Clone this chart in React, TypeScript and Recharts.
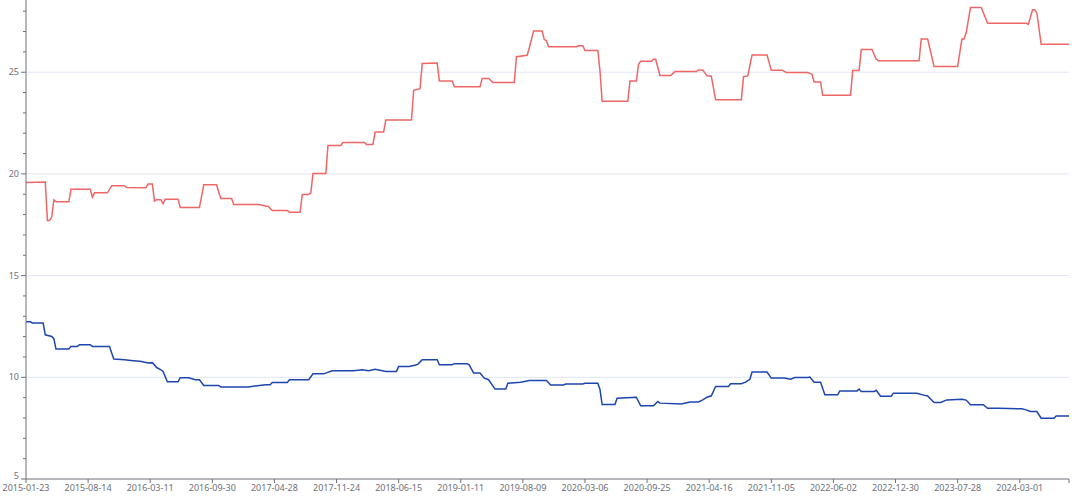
import React from 'react';
import { LineChart, Line, XAxis, YAxis, CartesianGrid } from 'recharts';

// weekly category labels shown on the x axis (one every 29 weeks)
const dateLabels = [
  '2015-01-23', '2015-08-14', '2016-03-11', '2016-09-30', '2017-04-28', '2017-11-24',
  '2018-06-15', '2019-01-11', '2019-08-09', '2020-03-06', '2020-09-25', '2021-04-16',
  '2021-11-05', '2022-06-02', '2022-12-30', '2023-07-28', '2024-03-01'
];
const labelStep = 29;
const lastWeek = 487;

const yTicks = [5, 6, 7, 8, 9, 10, 11, 12, 13, 14, 15, 16, 17, 18, 19, 20, 21, 22, 23, 24, 25, 26, 27, 28];
const gridValues = [10, 15, 20, 25];

// red series: week index where the value changes, and the value
const redWeeks = [
  0, 9, 10, 11, 12, 13, 14, 20, 21, 30, 31, 32, 38, 40, 46, 47, 56, 57, 59, 60, 61, 63, 64, 65, 71, 72, 81, 83, 89, 90,
  91, 96, 97, 108, 110, 112, 113, 115, 122, 123, 128, 129, 132, 133, 134, 140, 141, 147, 148, 158, 159, 162, 163, 167,
  168, 180, 181, 184, 185, 192, 193, 199, 200, 212, 213, 216, 218, 228, 229, 234, 235, 237, 241, 242, 243, 244, 257,
  258, 260, 261, 267, 268, 269, 281, 282, 285, 286, 287, 292, 293, 294, 296, 301, 303, 313, 314, 316, 318, 320, 322,
  334, 335, 337, 339, 346, 348, 353, 355, 365, 367, 368, 371, 372, 385, 386, 389, 390, 395, 397, 398, 417, 418, 421,
  424, 435, 437, 438, 439, 441, 446, 449, 467, 468, 470, 471, 472, 474, 487
];
const redValues = [
  19.58, 19.6, 17.71, 17.71, 17.87, 18.73, 18.63, 18.63, 19.24, 19.24, 18.86, 19.07, 19.07, 19.42, 19.42, 19.33, 19.32,
  19.5, 19.5, 18.66, 18.73, 18.73, 18.53, 18.76, 18.76, 18.35, 18.35, 19.47, 19.47, 19.1, 18.79, 18.79, 18.5, 18.5,
  18.47, 18.41, 18.41, 18.2, 18.2, 18.12, 18.12, 18.99, 18.99, 19.07, 20.02, 20.02, 21.4, 21.4, 21.54, 21.54, 21.45,
  21.45, 22.06, 22.06, 22.65, 22.65, 24.11, 24.19, 25.43, 25.45, 24.57, 24.57, 24.29, 24.29, 24.69, 24.69, 24.49,
  24.49, 25.76, 25.83, 26.2, 27.02, 27.02, 26.61, 26.55, 26.25, 26.25, 26.3, 26.3, 26.07, 26.07, 25.07, 23.57, 23.57,
  24.57, 24.57, 25.39, 25.54, 25.54, 25.64, 25.64, 24.84, 24.84, 25.03, 25.03, 25.11, 25.11, 24.82, 24.8, 23.64,
  23.64, 24.78, 24.82, 25.84, 25.84, 25.1, 25.1, 24.99, 24.99, 24.9, 24.52, 24.52, 23.87, 23.87, 25.08, 25.08, 26.12,
  26.12, 25.64, 25.56, 25.56, 26.63, 26.63, 25.28, 25.28, 26.63, 26.63, 26.95, 28.18, 28.18, 27.41, 27.41, 27.35,
  28.07, 28.07, 27.9, 26.38, 26.38
];

// blue series
const blueWeeks = [
  0, 2, 3, 8, 9, 12, 13, 14, 20, 21, 24, 25, 30, 31, 39, 40, 41, 46, 49, 54, 57, 59, 61, 63, 64, 66, 71, 72, 76, 79,
  81, 83, 90, 91, 104, 108, 112, 114, 115, 122, 123, 132, 134, 139, 143, 153, 157, 160, 163, 168, 173, 174, 179, 182,
  183, 185, 192, 193, 199, 200, 206, 207, 209, 212, 214, 216, 219, 224, 225, 231, 235, 243, 245, 251, 252, 260, 261,
  267, 268, 269, 275, 276, 285, 287, 293, 295, 296, 306, 310, 314, 316, 318, 320, 322, 328, 329, 334, 336, 338, 339,
  346, 348, 354, 357, 359, 365, 366, 368, 371, 373, 379, 380, 388, 389, 390, 396, 397, 399, 404, 405, 416, 420, 421,
  424, 427, 430, 437, 439, 441, 447, 449, 454, 465, 467, 469, 472, 474, 480, 481, 487
];
const blueValues = [
  12.73, 12.73, 12.67, 12.67, 12.09, 12.01, 11.9, 11.39, 11.39, 11.52, 11.52, 11.6, 11.6, 11.52, 11.52, 11.2, 10.9,
  10.86, 10.83, 10.78, 10.7, 10.72, 10.48, 10.37, 10.29, 9.78, 9.78, 9.98, 9.98, 9.88, 9.88, 9.6, 9.6, 9.52, 9.52,
  9.59, 9.63, 9.63, 9.74, 9.74, 9.88, 9.88, 10.17, 10.17, 10.32, 10.32, 10.37, 10.32, 10.39, 10.29, 10.29, 10.53,
  10.53, 10.6, 10.65, 10.86, 10.86, 10.62, 10.62, 10.67, 10.67, 10.6, 10.21, 10.21, 9.96, 9.88, 9.42, 9.42, 9.71,
  9.76, 9.84, 9.84, 9.62, 9.62, 9.67, 9.67, 9.71, 9.71, 9.4, 8.66, 8.66, 8.97, 9.02, 8.6, 8.6, 8.81, 8.73, 8.69,
  8.79, 8.79, 8.89, 9.02, 9.09, 9.55, 9.55, 9.68, 9.68, 9.76, 9.9, 10.26, 10.26, 9.96, 9.96, 9.91, 9.99, 9.99, 10.01,
  9.76, 9.76, 9.14, 9.14, 9.33, 9.33, 9.42, 9.3, 9.3, 9.36, 9.07, 9.07, 9.22, 9.22, 9.1, 9.08, 8.76, 8.76, 8.89,
  8.92, 8.88, 8.65, 8.65, 8.48, 8.48, 8.45, 8.4, 8.32, 8.32, 7.99, 7.99, 8.1, 8.1
];

const redData = redWeeks.map((w, i) => ({ week: w, value: redValues[i] }));
const blueData = blueWeeks.map((w, i) => ({ week: w, value: blueValues[i] }));
const xTicks = [...dateLabels.map((_, i) => i * labelStep), lastWeek];

const axisColor = '#6E7079';
const font = '"Noto Sans", sans-serif';

function YTick(props: any) {
  const { x, y, payload } = props;
  const major = payload.value % 5 === 0;
  // the bottom label sits a little above the axis so it clears the date labels
  const ly = payload.value === 5 ? y - 3 : y;
  return (
    <g>
      <line x1={x - (major ? 5 : 3)} x2={x} y1={y} y2={y} stroke={axisColor} strokeWidth={1} />
      {major && (
        <text x={x - 7} y={ly} dy="0.35em" textAnchor="end" fill={axisColor} fontSize={9} fontFamily={font}>
          {payload.value}
        </text>
      )}
    </g>
  );
}

export default function App() {
  return (
    <div style={{ position: 'absolute', left: 0, top: 0, background: '#fff' }}>
      <LineChart width={1080} height={499} margin={{ top: 0, right: 11, bottom: 0, left: 0 }}>
        <CartesianGrid stroke="#E0E6F1" vertical={false} horizontalValues={gridValues} />
        <XAxis
          type="number"
          dataKey="week"
          domain={[0, lastWeek]}
          allowDataOverflow
          ticks={xTicks}
          interval={0}
          height={20}
          stroke={axisColor}
          tickSize={4}
          tickMargin={2}
          tick={{ fill: axisColor, fontSize: 9, fontFamily: font }}
          tickFormatter={(v: number) => (v % labelStep === 0 ? dateLabels[v / labelStep] ?? '' : '')}
        />
        <YAxis
          type="number"
          domain={[5, 28.55]}
          allowDataOverflow
          ticks={yTicks}
          interval={0}
          width={26}
          stroke={axisColor}
          tickLine={false}
          tickSize={0}
          tickMargin={0}
          tick={<YTick />}
        />
        <Line data={redData} dataKey="value" stroke="#EE6666" strokeWidth={1.5} dot={false} isAnimationActive={false} />
        <Line data={blueData} dataKey="value" stroke="#1D45AE" strokeWidth={1.5} dot={false} isAnimationActive={false} />
      </LineChart>
    </div>
  );
}
